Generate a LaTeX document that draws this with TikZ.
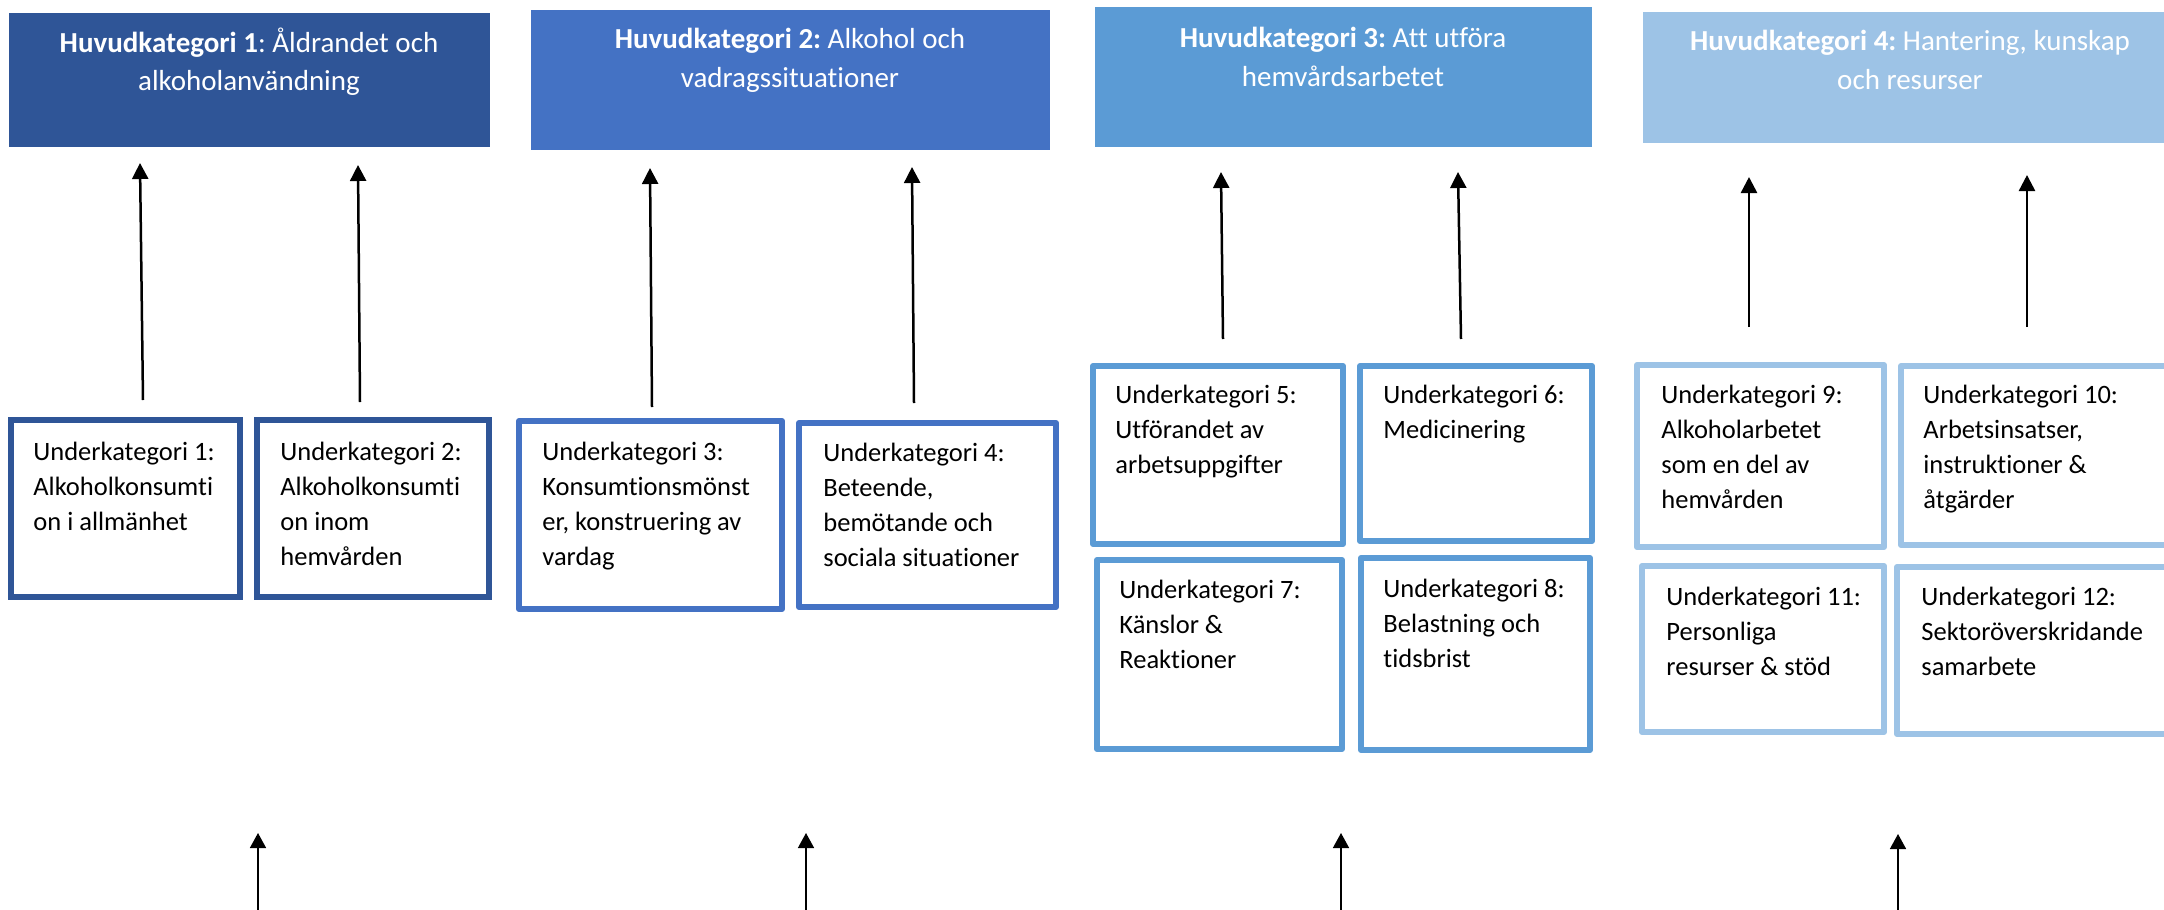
\documentclass[tikz,border=0pt]{standalone}
\usepackage{fontspec}
\setmainfont{Carlito}[Ligatures={NoCommon}]
\frenchspacing
\usetikzlibrary{arrows.meta}
\definecolor{cA}{HTML}{2F5597}
\definecolor{cB}{HTML}{4472C4}
\definecolor{cC}{HTML}{5B9BD5}
\definecolor{cD}{HTML}{9DC3E6}
\tikzset{
  headbox/.style={rectangle, fill=#1, draw=none, inner sep=0pt, outer sep=0pt, anchor=north west},
  subbox/.style={rectangle, draw=#1, line width=3pt, fill=white, inner sep=0pt, outer sep=0pt, anchor=north west, line join=round},
  subtext/.style={anchor=base west, inner sep=0pt, align=flush left, text width=140pt, font=\fontsize{13.25pt}{17.5pt}\selectfont},
  headtext/.style={anchor=base, inner sep=0pt, align=flush center, text width=300pt, text=white, font=\fontsize{14.5pt}{19.5pt}\selectfont},
  arr/.style={line width=1.25pt, -{Triangle[length=8pt,width=8pt]}},
  barr/.style={line width=0.75pt, -{Triangle[length=7.5pt,width=8pt]}},
}
\begin{document}
\begin{tikzpicture}[x=0.5pt,y=-0.5pt]
\useasboundingbox (0,0) rectangle (2164,910);
\clip (0,0) rectangle (2164,910);

% header boxes
\node[headbox=cA, minimum width=240.5pt, minimum height=67pt] (h1) at (8.7,12.7) {};
\node[headbox=cB, minimum width=259.5pt, minimum height=70pt] (h2) at (531,10) {};
\node[headbox=cC, minimum width=248.5pt, minimum height=70pt] (h3) at (1095,7) {};
\node[headbox=cD, minimum width=267.5pt, minimum height=65.5pt] (h4) at (1643,12) {};

\node[headtext] (ht1) at (249,52) {\textbf{Huvudkategori 1}: Åldrandet och\\alkoholanvändning};
\node[headtext] (ht2) at (790,48) {\textbf{Huvudkategori 2:} Alkohol och\\vadragssituationer};
\node[headtext] (ht3) at (1343,47) {\textbf{Huvudkategori 3:} Att utföra\\hemvårdsarbetet};
\node[headtext] (ht4) at (1910,50) {\textbf{Huvudkategori 4:} Hantering, kunskap\\och resurser};

% sub boxes
\node[subbox=cA, line join=miter, minimum width=114.5pt, minimum height=88.5pt] (s1) at (11,420) {};
\node[subbox=cA, line join=miter, minimum width=116pt, minimum height=88.5pt] (s2) at (257,420) {};
\node[subbox=cB, minimum width=131.5pt, minimum height=94pt] (s3) at (519,421) {};
\node[subbox=cB, minimum width=128.5pt, minimum height=92pt] (s4) at (799,423) {};
\node[subbox=cC, minimum width=125pt, minimum height=89pt] (s5) at (1093,366) {};
\node[subbox=cC, minimum width=116pt, minimum height=87.5pt] (s6) at (1360,366) {};
\node[subbox=cC, minimum width=122.5pt, minimum height=94.5pt] (s7) at (1097,560) {};
\node[subbox=cC, minimum width=114.5pt, minimum height=96pt] (s8) at (1361,558) {};
\node[subbox=cD, minimum width=123.5pt, minimum height=91pt] (s9) at (1637,365) {};
\node[subbox=cD, minimum width=135.5pt, minimum height=89.5pt] (s10) at (1901,366) {};
\node[subbox=cD, minimum width=121pt, minimum height=83pt] (s11) at (1642,566) {};
\node[subbox=cD, minimum width=137.5pt, minimum height=83.5pt] (s12) at (1897,567) {};

% sub texts
\node[subtext] (t1) at (33,460) {Underkategori 1:\\Alkoholkonsumti\\on i allmänhet};
\node[subtext] (t2) at (280,460) {Underkategori 2:\\Alkoholkonsumti\\on inom\\hemvården};
\node[subtext] (t3) at (542,460) {Underkategori 3:\\Konsumtionsmönst\\er, konstruering av\\vardag};
\node[subtext] (t4) at (823,461) {Underkategori 4:\\Beteende,\\bemötande och\\sociala situationer};
\node[subtext] (t5) at (1115,403) {Underkategori 5:\\Utförandet av\\arbetsuppgifter};
\node[subtext] (t6) at (1383,403) {Underkategori 6:\\Medicinering};
\node[subtext] (t7) at (1119,598) {Underkategori 7:\\Känslor \&\\Reaktioner};
\node[subtext] (t8) at (1383,597) {Underkategori 8:\\Belastning och\\tidsbrist};
\node[subtext] (t9) at (1661,403) {Underkategori 9:\\Alkoholarbetet\\som en del av\\hemvården};
\node[subtext] (t10) at (1923,403) {Underkategori 10:\\Arbetsinsatser,\\instruktioner \&\\åtgärder};
\node[subtext] (t11) at (1666,605) {Underkategori 11:\\Personliga\\resurser \& stöd};
\node[subtext] (t12) at (1921,605) {Underkategori 12:\\Sektoröverskridande\\samarbete};

% upward arrows between sub and main categories
\coordinate (a1s) at (143,400);  \coordinate (a1e) at (140,163);
\coordinate (a2s) at (360,402);  \coordinate (a2e) at (358,165);
\coordinate (a3s) at (652,407);  \coordinate (a3e) at (650,168);
\coordinate (a4s) at (914,403);  \coordinate (a4e) at (912,167);
\coordinate (a5s) at (1223,339); \coordinate (a5e) at (1221,172);
\coordinate (a6s) at (1461,339); \coordinate (a6e) at (1458,172);
\coordinate (a7s) at (1749,327); \coordinate (a7e) at (1749,177);
\coordinate (a8s) at (2027,327); \coordinate (a8e) at (2027,175);
\foreach \i in {1,...,8} {\draw[arr] (a\i s) -- (a\i e);}

% bottom arrows
\coordinate (b1s) at (258,915);  \coordinate (b1e) at (258,833);
\coordinate (b2s) at (806,915);  \coordinate (b2e) at (806,833);
\coordinate (b3s) at (1341,915); \coordinate (b3e) at (1341,833);
\coordinate (b4s) at (1898,915); \coordinate (b4e) at (1898,834);
\foreach \i in {1,...,4} {\draw[barr] (b\i s) -- (b\i e);}
\end{tikzpicture}
\end{document}
